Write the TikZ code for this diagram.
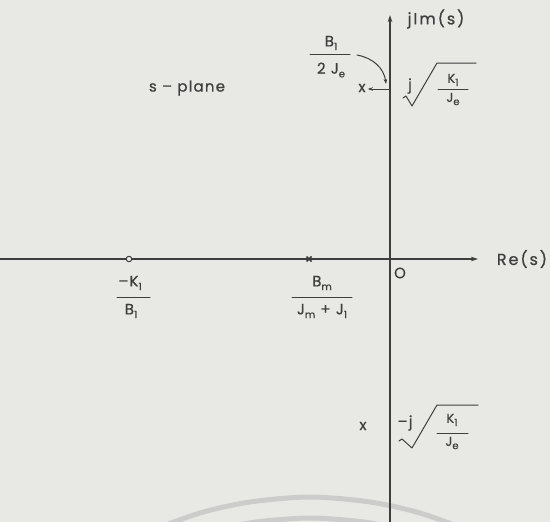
\documentclass[tikz,border=0pt]{standalone}
\usepackage{fontspec}
\setmainfont{Poppins}
\usetikzlibrary{arrows.meta,calc}
\definecolor{paper}{RGB}{232,232,229}
\definecolor{ink}{RGB}{62,62,62}
\definecolor{wmark}{RGB}{204,204,202}
\newcommand\sbs[1]{\raisebox{-0.45ex}{\fontsize{10}{11}\selectfont #1}}
\begin{document}
\begin{tikzpicture}[x=1pt,y=-1pt,line cap=round,line join=round,
  lab/.style={text=ink,inner sep=0pt,font=\fontsize{15}{17}\selectfont\addfontfeature{LetterSpace=8,FakeBold=0.6}},
  big/.style={text=ink,inner sep=0pt,font=\fontsize{16}{18}\selectfont\addfontfeature{LetterSpace=12,FakeBold=0.6}},
  small/.style={text=ink,inner sep=0pt,font=\fontsize{13}{15}\selectfont\addfontfeature{LetterSpace=6,FakeBold=0.6}},
  ax/.style={draw=ink,line width=1.1pt,-{Stealth[length=7pt,width=4.5pt]}},
  pen/.style={draw=ink,line width=1pt},
  arr/.style={pen,-{Stealth[length=5pt,width=3.5pt]}},
  wm/.style={draw=wmark,line width=5pt}]
\fill[paper] (0,0) rectangle (550,522);
\useasboundingbox (0,0) rectangle (550,522);
% faint watermark arcs
\begin{scope}
\clip (0,0) rectangle (550,522);
\draw[wm] plot[smooth] coordinates {(150,531) (200,513) (250,502) (310,497) (370,502) (420,513) (470,531)};
\draw[wm] plot[smooth] coordinates {(200,535) (230,527) (260,521.5) (310,518) (360,521.5) (390,527) (420,535)};
\end{scope}
% axes
\coordinate (xl) at (0,259);
\coordinate (xt) at (478,259);
\coordinate (yb) at (390,522);
\coordinate (yt) at (390,15);
\draw[ax] (xl) -- (xt);
\draw[ax] (yb) -- (yt);
\node[big] (re) at (522,259) {Re(s)};
\node[big] (im) at (436,19) {jIm(s)};
\node[lab] (orig) at (400,273) {O};
\node[lab] (sp) at (187,88) {s – plane};
% zero and pole on real axis
\node[circle,draw=ink,line width=1pt,fill=paper,minimum size=5.5pt,inner sep=0pt] (zero) at (129,259) {};
\coordinate (pole) at (309,259);
\draw[ink,line width=1.7pt,line cap=butt] ($(pole)+(-2.5,-2.5)$) -- ($(pole)+(2.5,2.5)$);
\draw[ink,line width=1.7pt,line cap=butt] ($(pole)+(-2.5,2.5)$) -- ($(pole)+(2.5,-2.5)$);
% -K1/B1
\node[lab] (kn) at (130,283) {–K\sbs{1}};
\coordinate (kb1) at (117,297); \coordinate (kb2) at (150,297);
\draw[pen] (kb1) -- (kb2);
\node[lab] (kd) at (131,311) {B\sbs{1}};
% Bm/(Jm+J1)
\node[lab] (bn) at (322,283) {B\sbs{m}};
\coordinate (bb1) at (292,297); \coordinate (bb2) at (352,297);
\draw[pen] (bb1) -- (bb2);
\node[lab] (bd) at (322,311) {J\sbs{m} + J\sbs{1}};
% upper pole
\node[lab] (px1) at (362,88) {x};
\coordinate (a1) at (390,89);
\draw[arr] (a1) -- ($(px1.east)+(2,1)$);
% B1/2Je with curved arrow
\node[lab] (tn) at (331,43) {B\sbs{1}};
\coordinate (tb1) at (310,54); \coordinate (tb2) at (350,54);
\draw[pen] (tb1) -- (tb2);
\node[lab] (td) at (331,70) {2 J\sbs{e}};
\coordinate (cs) at (357,55);
\coordinate (ce) at (386,84);
\draw[arr] (cs) .. controls (373,58) and (384,68) .. (ce);
% j sqrt(K1/Je)
\node[lab] (j1) at (410,86) {j};
\draw[pen] (403,98) -- (406,96) -- (412,106) -- (437,63) -- (476,63);
\node[small] (uk) at (453,80) {K\sbs{1}};
\coordinate (ub1) at (438,89); \coordinate (ub2) at (468,89);
\draw[pen] (ub1) -- (ub2);
\node[small] (uj) at (453,99) {J\sbs{e}};
% lower pole
\node[lab] (px2) at (363,426) {x};
\node[lab] (j2) at (405,423) {–j};
\draw[pen] (399,441) -- (402,439) -- (412,448) -- (437,405) -- (478,405);
\node[small] (lk) at (452,420) {K\sbs{1}};
\coordinate (lb1) at (437,433); \coordinate (lb2) at (468,433);
\draw[pen] (lb1) -- (lb2);
\node[small] (lj) at (452,443) {J\sbs{e}};
\end{tikzpicture}
\end{document}
